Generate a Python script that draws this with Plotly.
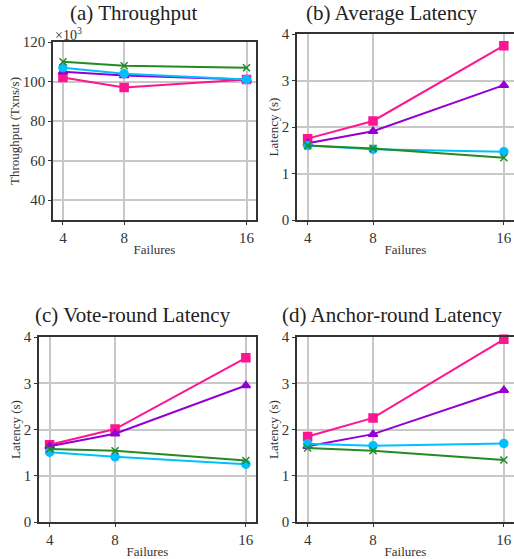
import plotly.graph_objects as go

W, H = 514, 559
failures = [4, 8, 16]
series_names = ["Protocol A", "Protocol B", "Protocol C", "Protocol D"]
colors = ["#FF1493", "#9400D3", "#00BFFF", "#228B22"]
symbols = ["square", "triangle-up", "circle", "x-thin"]

throughput = {  # x10^3 Txns/s
    "Protocol A": [102, 97, 101],
    "Protocol B": [105, 103, 101],
    "Protocol C": [107, 104, 101],
    "Protocol D": [110, 108, 107],
}
avg_latency = {
    "Protocol A": [1.75, 2.13, 3.75],
    "Protocol B": [1.65, 1.91, 2.90],
    "Protocol C": [1.60, 1.52, 1.47],
    "Protocol D": [1.60, 1.54, 1.34],
}
vote_latency = {
    "Protocol A": [1.67, 2.01, 3.55],
    "Protocol B": [1.64, 1.91, 2.95],
    "Protocol C": [1.51, 1.41, 1.25],
    "Protocol D": [1.58, 1.54, 1.33],
}
anchor_latency = {
    "Protocol A": [1.85, 2.25, 3.95],
    "Protocol B": [1.64, 1.90, 2.85],
    "Protocol C": [1.69, 1.65, 1.70],
    "Protocol D": [1.60, 1.54, 1.34],
}
titles = ["(a) Throughput", "(b) Average Latency", "(c) Vote-round Latency", "(d) Anchor-round Latency"]
ylabels = ["Throughput (Txns/s)", "Latency (s)", "Latency (s)", "Latency (s)"]

FONT = "Liberation Serif"

# pixel boxes: (left, right, top, bottom)
boxes = [(53, 256, 42, 220), (297, 514, 34, 220), (39, 256, 337, 522), (297, 514, 337, 522)]

fig = go.Figure()
datasets = [throughput, avg_latency, vote_latency, anchor_latency]
for i, (data, box) in enumerate(zip(datasets, boxes)):
    n = "" if i == 0 else str(i + 1)
    for name, c, s in zip(series_names, colors, symbols):
        fig.add_trace(go.Scatter(
            x=failures, y=data[name], mode="lines+markers", name=name,
            line=dict(color=c, width=2),
            marker=dict(color=c, symbol=s, size=8 if s != "x-thin" else 7,
                        line=dict(color=c, width=1.5)),
            xaxis="x" + n, yaxis="y" + n, showlegend=False, cliponaxis=False))
    l, r, t, b = box
    xa = dict(domain=[l / W, r / W], range=[3.35, 16.62], tickvals=failures,
              ticktext=[str(v) for v in failures],
              showgrid=True, gridcolor="#c8c8c8", gridwidth=1.5,
              showline=True, linecolor="#333", linewidth=1.5, mirror=True,
              ticks="outside", ticklen=3, tickcolor="#333",
              tickfont=dict(family=FONT, size=15, color="#333"),
              title=dict(text="Failures", font=dict(family=FONT, size=13, color="#333"), standoff=0),
              zeroline=False, anchor="y" + n, automargin=False)
    if i == 0:
        ya = dict(range=[30, 120], tickvals=[40, 60, 80, 100, 120])
    else:
        ya = dict(range=[0, 4], tickvals=[0, 1, 2, 3, 4])
    ya.update(domain=[1 - b / H, 1 - t / H], showgrid=True, gridcolor="#c8c8c8", gridwidth=1.5,
              showline=True, linecolor="#333", linewidth=1.5, mirror=True,
              ticks="outside", ticklen=3, tickcolor="#333",
              tickfont=dict(family=FONT, size=15, color="#333"),
              title=dict(text=ylabels[i], font=dict(family=FONT, size=13, color="#333"), standoff=0),
              zeroline=False, anchor="x" + n, automargin=False)
    fig.layout["xaxis" + n] = xa
    fig.layout["yaxis" + n] = ya

title_pos = [(133, 13), (392, 13), (133, 315), (392, 315)]
for (x, y), txt in zip(title_pos, titles):
    fig.add_annotation(x=x / W, y=1 - y / H, xref="paper", yref="paper", text=txt,
                       showarrow=False, font=dict(family=FONT, size=21, color="#222"),
                       xanchor="center", yanchor="middle")
fig.add_annotation(x=53 / W, y=1 - 34 / H, xref="paper", yref="paper", text="×10<sup>3</sup>",
                   showarrow=False, font=dict(family=FONT, size=14, color="#333"),
                   xanchor="left", yanchor="middle")

fig.update_layout(width=W, height=H, margin=dict(l=0, r=0, t=0, b=0),
                  plot_bgcolor="white", paper_bgcolor="white")
fig.write_html("out.html", config={"displayModeBar": False},
               post_script="document.body.style.margin='0';document.body.style.overflow='hidden';")
